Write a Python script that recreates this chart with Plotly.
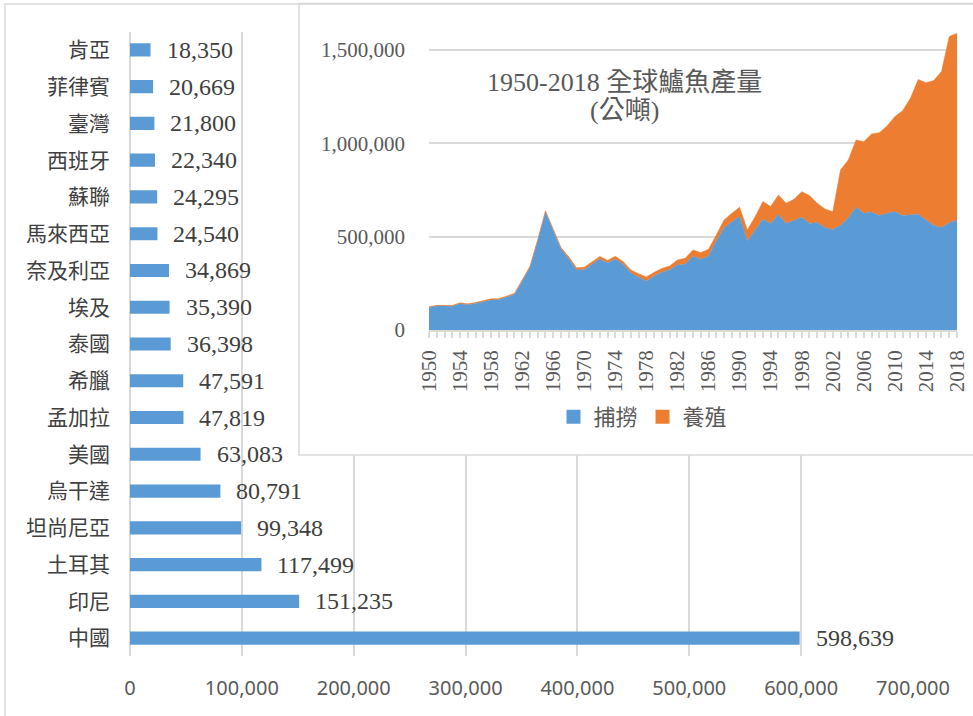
import plotly.graph_objects as go

# ---- main bar chart data (top to bottom) ----
countries = ["肯亞", "菲律賓", "臺灣", "西班牙", "蘇聯", "馬來西亞", "奈及利亞", "埃及", "泰國",
             "希臘", "孟加拉", "美國", "烏干達", "坦尚尼亞", "土耳其", "印尼", "中國"]
production = [18350, 20669, 21800, 22340, 24295, 24540, 34869, 35390, 36398,
              47591, 47819, 63083, 80791, 99348, 117499, 151235, 598639]
x_ticks = [0, 100000, 200000, 300000, 400000, 500000, 600000, 700000]

# ---- inset area chart data ----
years = list(range(1950, 2019))
capture = [121000, 128000, 128000, 127000, 141000, 135000, 142000, 150000, 161000, 162000, 178000, 190000,
           262000, 335000, 478000, 632000, 532000, 433000, 382000, 322000,
           323000, 352000, 380000, 360000, 380000, 352000, 305000, 282000, 262000, 289000,
           310000, 323000, 348000, 353000, 395000, 379000, 396000, 478000, 545000, 580000,
           607000, 476000, 536000, 593000, 571000, 619000, 570000, 585000, 604000, 571000,
           576000, 548000, 539000, 560000, 600000, 657000, 625000, 632000, 613000, 625000,
           634000, 613000, 618000, 620000, 589000, 560000, 549000, 575000, 589000]
aquaculture = [4000, 4000, 4000, 4000, 5000, 5000, 5000, 5000, 6000, 6000, 6000, 6000,
               6000, 6000, 6000, 7000, 8000, 9000, 10000, 12000,
               13000, 14000, 14000, 14000, 15000, 15000, 17000, 19000, 22000, 20000,
               20000, 20000, 27000, 31000, 34000, 35000, 36000, 31000, 44000, 45000,
               50000, 60000, 71000, 95000, 90000, 104000, 109000, 115000, 137000, 149000,
               103000, 100000, 95000, 297000, 311000, 361000, 384000, 418000, 444000, 468000,
               509000, 562000, 623000, 722000, 736000, 776000, 835000, 997000, 1001000]
inset_y_ticks = [0, 500000, 1000000, 1500000]
title_line1 = "1950-2018 全球鱸魚產量"
title_line2 = "(公噸)"
legend_names = ["捕撈", "養殖"]

BLUE = "#5B9BD5"
ORANGE = "#ED7D31"
GRID = "#D9D9D9"
W, H = 973, 716

def px(x):
    return x / W

def py(y):
    return 1 - y / H

SERIF = "Liberation Serif, Noto Sans CJK TC"
CJK = "Noto Sans CJK TC"

fig = go.Figure()

fig.add_trace(go.Bar(
    x=production, y=countries, orientation="h",
    marker=dict(color=BLUE, line=dict(width=0)),
    xaxis="x", yaxis="y", showlegend=False, hoverinfo="skip",
))

# empty trace on the white "card" subplot that hosts the inset
fig.add_trace(go.Scatter(x=[None], y=[None], mode="markers", xaxis="x2", yaxis="y2",
                         showlegend=False, hoverinfo="skip"))

# inset areas
fig.add_trace(go.Scatter(
    x=years, y=capture, stackgroup="s", mode="lines",
    line=dict(color=BLUE, width=0.5), fillcolor=BLUE,
    xaxis="x3", yaxis="y3", showlegend=False, hoverinfo="skip", name=legend_names[0],
))
fig.add_trace(go.Scatter(
    x=years, y=aquaculture, stackgroup="s", mode="lines",
    line=dict(color=ORANGE, width=0.5), fillcolor=ORANGE,
    xaxis="x3", yaxis="y3", showlegend=False, hoverinfo="skip", name=legend_names[1],
))
# legend markers
for nm, col in zip(legend_names, [BLUE, ORANGE]):
    fig.add_trace(go.Scatter(
        x=[None], y=[None], mode="markers", name=nm,
        marker=dict(symbol="square", size=14, color=col),
        xaxis="x3", yaxis="y3", showlegend=True,
    ))

annotations = []
for c, v in zip(countries, production):
    annotations.append(dict(
        x=v, y=c, xref="x", yref="y", text=f"{v:,}", showarrow=False,
        xanchor="left", yanchor="middle", xshift=14,
        font=dict(family=SERIF, size=24, color="#404040"),
    ))
annotations.append(dict(x=px(624), y=py(82), xref="paper", yref="paper", text=title_line1,
                        showarrow=False, xanchor="center", yanchor="middle",
                        font=dict(family=SERIF, size=26, color="#595959")))
annotations.append(dict(x=px(624), y=py(110), xref="paper", yref="paper", text=title_line2,
                        showarrow=False, xanchor="center", yanchor="middle",
                        font=dict(family=SERIF, size=26, color="#595959")))

shapes = [
    # inset border
    dict(type="rect", xref="paper", yref="paper", layer="above",
         x0=px(299), x1=1.02, y0=py(455), y1=py(3.5),
         fillcolor="rgba(0,0,0,0)", line=dict(color=GRID, width=1.5)),
    # outer border
    dict(type="rect", xref="paper", yref="paper", layer="above",
         x0=px(5), x1=1.02, y0=-0.02, y1=py(4),
         fillcolor="rgba(0,0,0,0)", line=dict(color=GRID, width=1.5)),
]

hidden = dict(visible=False, showgrid=False, zeroline=False, fixedrange=True)

fig.update_layout(
    width=W, height=H,
    margin=dict(l=0, r=0, t=0, b=0, pad=0, autoexpand=False),
    paper_bgcolor="white", plot_bgcolor="white",
    bargap=0.64,
    showlegend=True,
    legend=dict(orientation="h", x=px(643), y=py(417), xanchor="center", yanchor="middle",
                traceorder="normal",
                font=dict(family=CJK, size=22, color="#595959"),
                bgcolor="rgba(0,0,0,0)"),
    annotations=annotations,
    shapes=shapes,
    xaxis=dict(domain=[px(130), px(913)], range=[0, 700000], tickvals=x_ticks,
               tickformat=",", showgrid=True, gridcolor=GRID, gridwidth=1.5,
               zeroline=True, zerolinecolor=GRID, zerolinewidth=1.5,
               showline=False, ticks="", ticklabelstandoff=18, automargin=False,
               tickfont=dict(family="Noto Sans", size=20, color="#595959"),
               anchor="y", fixedrange=True),
    yaxis=dict(domain=[py(656.4), py(31.6)], type="category",
               categoryorder="array", categoryarray=countries,
               range=[len(countries) - 0.5, -0.5], automargin=False,
               showgrid=False, zeroline=False, showline=False, ticks="",
               ticklabelstandoff=19,
               tickfont=dict(family=CJK, size=21, color="#404040"),
               anchor="x", fixedrange=True),
    xaxis2=dict(domain=[px(300), 1.0], anchor="y2", range=[0, 1], **hidden),
    yaxis2=dict(domain=[py(455), py(3.5)], anchor="x2", range=[0, 1], **hidden),
    xaxis3=dict(domain=[px(429), px(957)], range=[1950, 2018],
                tickvals=years, ticktext=[str(y) if (y - 1950) % 4 == 0 else "" for y in years],
                tickangle=-90, ticks="outside", ticklen=6, tickcolor=GRID, tickwidth=1.5,
                showgrid=False, zeroline=False, showline=True, linecolor=GRID, linewidth=1.5,
                ticklabelstandoff=4, automargin=False,
                tickfont=dict(family=SERIF, size=21, color="#595959"),
                anchor="y3", fixedrange=True),
    yaxis3=dict(domain=[py(330), py(31.3)], range=[0, 1600000], tickvals=inset_y_ticks,
                tickformat=",", showgrid=True, gridcolor=GRID, gridwidth=1.5,
                zeroline=False, showline=False, ticks="", ticklabelstandoff=23,
                automargin=False,
                tickfont=dict(family=SERIF, size=21, color="#595959"),
                anchor="x3", fixedrange=True),
)

fig.write_html("out.html", config={"displayModeBar": False},
               post_script="document.body.style.margin='0px';document.body.style.overflow='hidden';")
